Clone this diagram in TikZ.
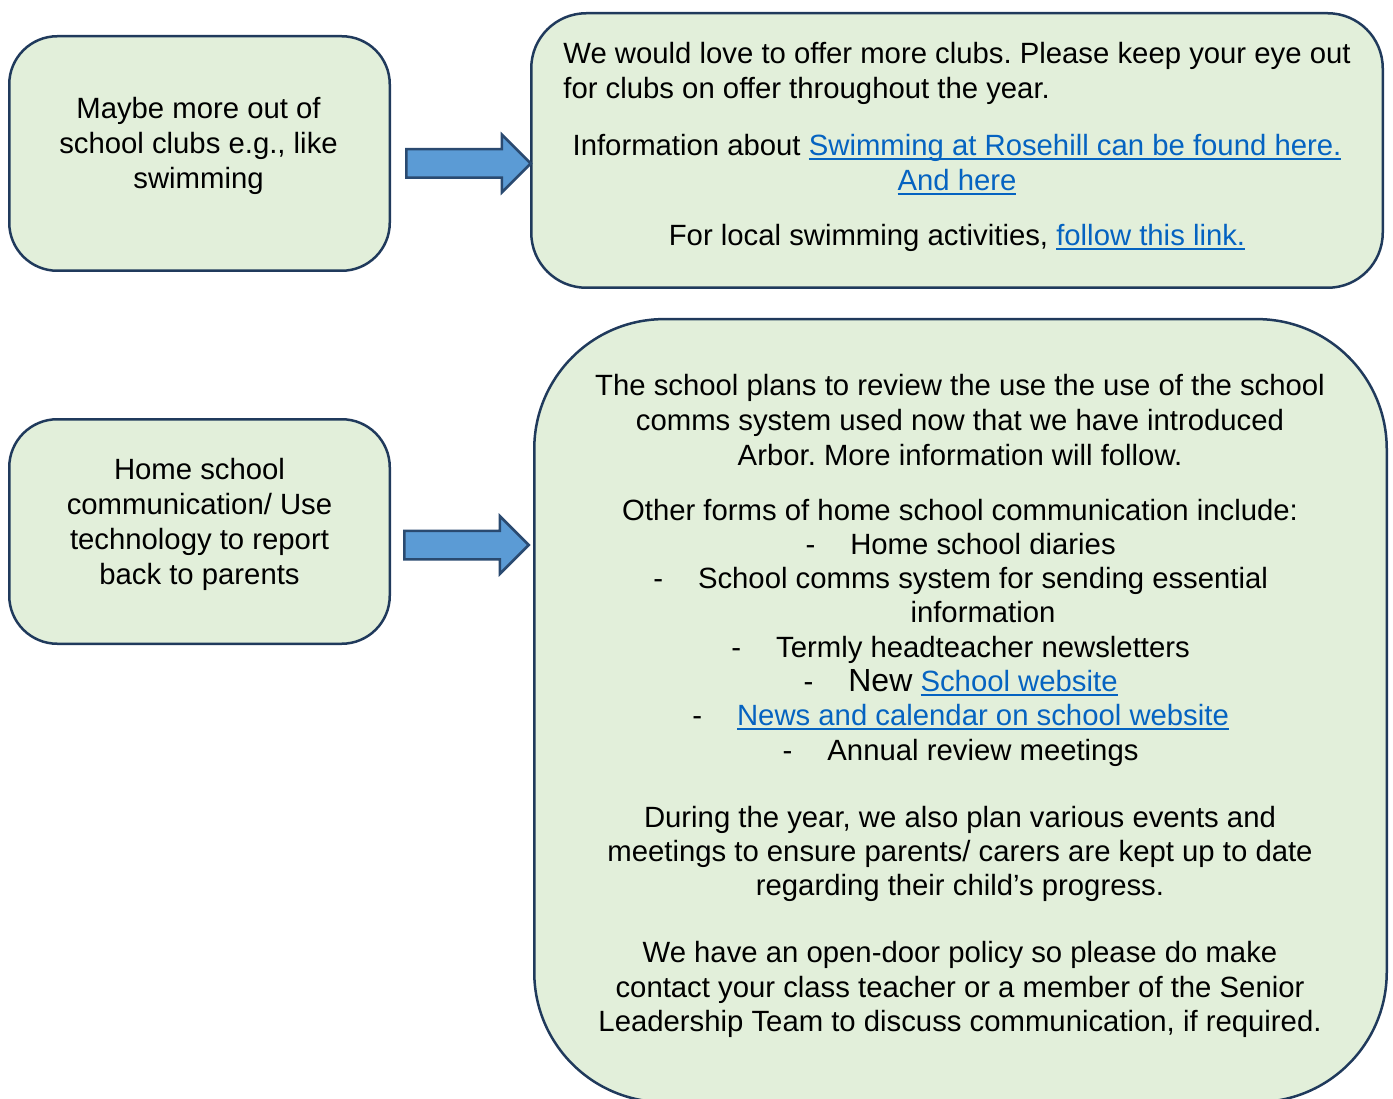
\documentclass[tikz,border=0pt]{standalone}
\usepackage{fontspec}
\setmainfont{Liberation Sans}
\usepackage{xcolor}
\usetikzlibrary{shapes.arrows,positioning}

\definecolor{cardfill}{HTML}{E2EFDA}
\definecolor{cardline}{HTML}{203A5C}
\definecolor{arrowfill}{HTML}{5B9BD5}
\definecolor{arrowline}{HTML}{2A4A70}
\definecolor{linkblue}{HTML}{0563C1}

\newsavebox{\linkbox}
\newcommand{\weblink}[1]{\textcolor{linkblue}{\sbox{\linkbox}{#1}%
    \rlap{\rule[-4.6pt]{\wd\linkbox}{2.4pt}}\usebox{\linkbox}}}
\newcommand{\bullitem}[1]{\hspace*{46pt}\llap{-\hspace{35pt}}#1}
\frenchspacing

\begin{document}
\begin{tikzpicture}[x=1pt, y=-1pt]
% STYLES
\tikzset{%
    card/.style={%
        rectangle, draw=cardline, fill=cardfill, line width=2.5pt,
        inner sep=0pt
    },
    notetext/.style={%
        anchor=north, align=center, inner sep=0pt,
        font=\fontsize{29.3}{35}\selectfont
    },
    pointer/.style={%
        single arrow, draw=arrowline, fill=arrowfill, line width=2.5pt,
        inner sep=13pt, minimum height=124.5pt, minimum width=55.5pt,
        single arrow head extend=14.7pt, single arrow tip angle=90
    }
}
\useasboundingbox (0,0) rectangle (1393,1099);
% Draw boxes
\node [card, rounded corners=48pt, minimum width=380.5pt, minimum height=234.5pt]
    (clubs) at (199.5,153.5) {};
\node [card, rounded corners=55pt, minimum width=851.5pt, minimum height=274.5pt]
    (clubsreply) at (957,150.5) {};
\node [card, rounded corners=48pt, minimum width=380.5pt, minimum height=224.5pt]
    (comms) at (199.5,531.5) {};
\node [card, rounded corners=130pt, minimum width=852.5pt, minimum height=783pt]
    (commsreply) at (960.5,710.6) {};
% Draw the texts
\node [notetext] (clubstext) at (198.5,97.5)
    {Maybe more out of\\school clubs e.g., like\\swimming};
\node [notetext] (clubsreplytext) at (957,39)
    {\begin{tabular}[b]{@{}l@{}}We would love to offer more clubs. Please keep your eye out\\
     for clubs on offer throughout the year.\end{tabular}\\[22pt]
     Information about \weblink{Swimming at Rosehill can be found here.}\\
     \weblink{And here}\\[20pt]
     For local swimming activities, \weblink{follow this link.}};
\node [notetext] (commstext) at (199.5,457.6)
    {Home school\\communication/ Use\\technology to report\\back to parents};
\node [notetext, font=\fontsize{29.3}{34.3}\selectfont] (commsreplytext) at (960,373.6)
    {The school plans to review the use the use of the school\\[0.7pt]
     comms system used now that we have introduced\\[0.7pt]
     Arbor. More information will follow.\\[20.7pt]
     Other forms of home school communication include:\\
     \bullitem{Home school diaries}\\
     \bullitem{School comms system for sending essential}\\
     \hspace*{46pt}information\\
     \bullitem{Termly headteacher newsletters}\\
     \bullitem{{\fontsize{32}{34.3}\selectfont New} \weblink{School website}}\\
     \bullitem{\weblink{News and calendar on school website}}\\
     \bullitem{Annual review meetings}\\[32.7pt]
     During the year, we also plan various events and\\
     meetings to ensure parents/ carers are kept up to date\\
     regarding their child’s progress.\\[32.7pt]
     We have an open-door policy so please do make\\
     contact your class teacher or a member of the Senior\\
     Leadership Team to discuss communication, if required.};
% Draw the arrows between boxes
\node [pointer, right=14pt of clubs, yshift=-10pt] (clubsarrow) {};
\node [pointer, right=12pt of comms, yshift=-13.5pt] (commsarrow) {};
\end{tikzpicture}
\end{document}
